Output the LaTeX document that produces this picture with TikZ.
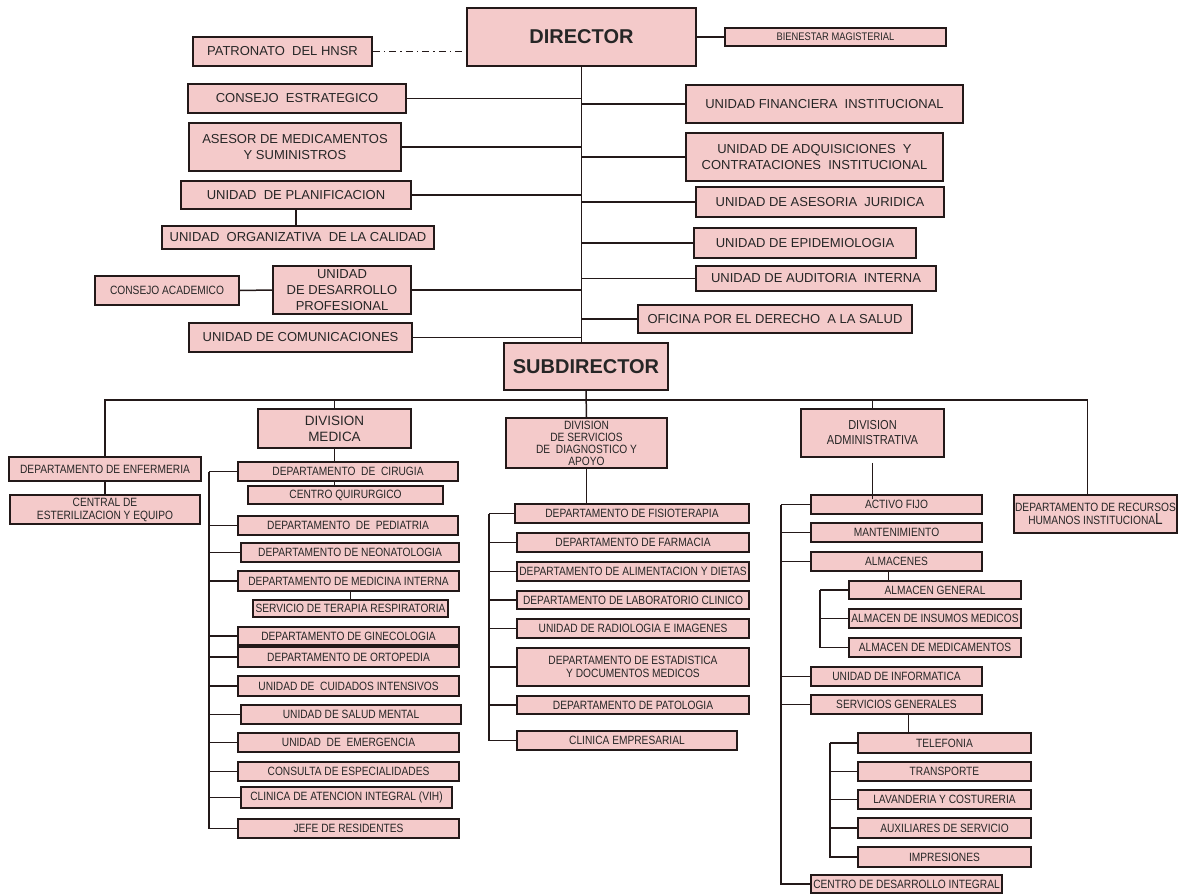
\documentclass[tikz,border=0pt]{standalone}
\usepackage{fontspec}
\setmainfont{Liberation Sans}
\newfontfamily\narrowfont[FakeStretch=0.85]{Liberation Sans}
\newcommand\bigtxt{\fontsize{13}{16}\selectfont}
\newcommand\smtxt{\narrowfont\fontsize{12}{13}\selectfont}
\newcommand\divtxt{\narrowfont\fontsize{13}{15}\selectfont}
\newcommand\headtxt{\bfseries\fontsize{20}{24}\selectfont}
\definecolor{boxpink}{RGB}{244,202,202}
\definecolor{boxline}{RGB}{35,25,25}
\tikzset{orgbox/.style = {draw=boxline, line width=1.8pt, fill=boxpink,
    inner sep=1pt, align=center, font=\bigtxt, text=black!85},
  narrowtxt/.style = {font=\smtxt},
  titletxt/.style = {font=\headtxt},
  link/.style = {line width=1.5pt, boxline}}
% name, left, top, right, bottom, text
\newcommand\orgnode[7][]{%
  \node[orgbox, minimum width={(#5-#3)*1pt}, minimum height={(#6-#4)*1pt}, #1]
    (#2) at ({(#3+#5)/2},{(#4+#6)/2}) {#7};}

\begin{document}
\begin{tikzpicture}[x=1pt, y=-1pt]
  \useasboundingbox (0,0) rectangle (1179,894);
  % direccion
  \orgnode[titletxt]{dir}{467}{8}{696}{66}{DIRECTOR}
  \orgnode{pat}{193}{37}{372}{66}{PATRONATO\ \ DEL HNSR}
  \orgnode[font=\narrowfont\fontsize{11}{13}\selectfont]{bien}{725}{28}{946}{46}{BIENESTAR MAGISTERIAL}
  \orgnode{conest}{188}{84}{406}{113}{CONSEJO\ \ ESTRATEGICO}
  \orgnode{fin}{686}{85}{963}{123}{UNIDAD FINANCIERA\ \ INSTITUCIONAL}
  \orgnode{ases}{189}{123}{401}{171}{ASESOR DE MEDICAMENTOS\\Y SUMINISTROS}
  \orgnode{adq}{686}{133}{943}{181}{UNIDAD DE ADQUISICIONES\ \ Y\\CONTRATACIONES\ \ INSTITUCIONAL}
  \orgnode{plan}{181}{181}{411}{209}{UNIDAD\ \ DE PLANIFICACION}
  \orgnode{jur}{696}{187}{944}{217}{UNIDAD DE ASESORIA\ \ JURIDICA}
  \orgnode{calid}{162}{226}{434}{249}{UNIDAD\ \ ORGANIZATIVA\ \ DE LA CALIDAD}
  \orgnode{epi}{694}{228}{916}{258}{UNIDAD DE EPIDEMIOLOGIA}
  \orgnode[narrowtxt]{acad}{95}{276}{239}{305}{CONSEJO ACADEMICO}
  \orgnode{desa}{273}{266}{411}{314}{UNIDAD\\DE DESARROLLO\\PROFESIONAL}
  \orgnode{aud}{696}{266}{936}{291}{UNIDAD DE AUDITORIA\ \ INTERNA}
  \orgnode{ofi}{638}{305}{912}{333}{OFICINA POR EL DERECHO\ \ A LA SALUD}
  \orgnode{com}{189}{323}{412}{352}{UNIDAD DE COMUNICACIONES}
  \orgnode[titletxt]{sub}{504}{343}{668}{390}{SUBDIRECTOR}

  \draw[link] (dir.south) -- (dir.south |- sub.north);
  \draw[link, dash pattern=on 7pt off 4pt on 1.5pt off 4pt] (pat.east) -- (pat.east -| dir.west);
  \draw[link] (dir.east |- bien.west) -- (bien.west);
  \foreach \n in {conest, ases, plan, desa, com}
    \draw[link] (\n.east) -- (\n.east -| dir.south);
  \foreach \n in {fin, adq, jur, epi, aud, ofi}
    \draw[link] (\n.west) -- (\n.west -| dir.south);
  \draw[link] (plan.south) -- (plan.south |- calid.north);
  \draw[link] (acad.east) -- (desa.west);

  % divisiones
  \orgnode[narrowtxt]{enf}{9}{457}{201}{481}{DEPARTAMENTO DE ENFERMERIA}
  \orgnode[narrowtxt]{este}{10}{495}{200}{524}{CENTRAL DE\\ESTERILIZACION Y EQUIPO}
  \orgnode[font=\fontsize{13.5}{16}\selectfont]{med}{258}{409}{411}{448}{DIVISION\\MEDICA}
  \orgnode[font=\narrowfont\fontsize{12}{12}\selectfont]{diag}{506}{418}{667}{468}{DIVISION\\DE SERVICIOS\\DE\ \ DIAGNOSTICO Y\\APOYO}
  \orgnode[font=\divtxt]{adm}{801}{409}{944}{457}{DIVISION\\ADMINISTRATIVA}
  \orgnode[narrowtxt]{rrhh}{1014}{495}{1177}{533}{DEPARTAMENTO DE RECURSOS\\HUMANOS INSTITUCIONA{\fontsize{16}{16}\selectfont L}}

  \path (sub.south) ++(0,9) coordinate (hub);
  \draw[link] (sub.south) -- (diag.north);
  \draw[link] (enf.north) -- (enf.north |- hub) -- ([xshift=-8pt]rrhh.north |- hub)
    -- ([xshift=-8pt]rrhh.north);
  \draw[link] (med.north) -- (med.north |- hub);
  \draw[link] (adm.north) -- (adm.north |- hub);
  \draw[link] (enf.south) -- (este.north);

  % division medica
  \orgnode[narrowtxt]{cir}{238}{462}{458}{481}{DEPARTAMENTO\ \ DE\ \ CIRUGIA}
  \orgnode[narrowtxt]{quir}{248}{486}{443}{504}{CENTRO QUIRURGICO}
  \orgnode[narrowtxt]{ped}{238}{516}{458}{535}{DEPARTAMENTO\ \ DE\ \ PEDIATRIA}
  \orgnode[narrowtxt]{neo}{241}{543}{459}{562}{DEPARTAMENTO DE NEONATOLOGIA}
  \orgnode[narrowtxt]{mint}{238}{571}{459}{591}{DEPARTAMENTO DE MEDICINA INTERNA}
  \orgnode[narrowtxt]{resp}{253}{600}{448}{617}{SERVICIO DE TERAPIA RESPIRATORIA}
  \orgnode[narrowtxt]{gine}{238}{627}{459}{645}{DEPARTAMENTO DE GINECOLOGIA}
  \orgnode[narrowtxt]{orto}{238}{647}{459}{667}{DEPARTAMENTO DE ORTOPEDIA}
  \orgnode[narrowtxt]{uci}{238}{676}{459}{696}{UNIDAD DE\ \ CUIDADOS INTENSIVOS}
  \orgnode[narrowtxt]{salud}{241}{705}{461}{724}{UNIDAD DE SALUD MENTAL}
  \orgnode[narrowtxt]{emer}{238}{733}{459}{752}{UNIDAD\ \ DE\ \ EMERGENCIA}
  \orgnode[narrowtxt]{consu}{238}{762}{459}{781}{CONSULTA DE ESPECIALIDADES}
  \orgnode[narrowtxt]{vih}{241}{787}{452}{808}{CLINICA DE ATENCION INTEGRAL (VIH)}
  \orgnode[narrowtxt]{jefe}{238}{819}{459}{838}{JEFE DE RESIDENTES}

  \draw[link] (med.south) -- (med.south |- cir.north);
  \draw[link] (med.south |- cir.south) -- (med.south |- quir.north);
  \draw[link] (resp.north) -- (resp.north |- mint.south);
  \draw[link] (cir.west) -- ++(-28,0) coordinate (mbus);
  \draw[link] (mbus) |- (jefe.west);
  \foreach \n in {ped, neo, mint, gine, orto, uci, salud, emer, consu, vih}
    \draw[link] (\n.west) -- (\n.west -| mbus);

  % division de servicios de diagnostico y apoyo
  \orgnode[narrowtxt]{fis}{515}{504}{749}{523}{DEPARTAMENTO DE FISIOTERAPIA}
  \orgnode[narrowtxt]{far}{517}{533}{749}{552}{DEPARTAMENTO DE FARMACIA}
  \orgnode[narrowtxt, inner sep=0pt]{ali}{517}{562}{749}{581}{DEPARTAMENTO DE ALIMENTACION Y DIETAS}
  \orgnode[narrowtxt]{lab}{517}{591}{749}{609}{DEPARTAMENTO DE LABORATORIO CLINICO}
  \orgnode[narrowtxt]{rad}{517}{619}{749}{638}{UNIDAD DE RADIOLOGIA E IMAGENES}
  \orgnode[narrowtxt]{estd}{517}{648}{749}{686}{DEPARTAMENTO DE ESTADISTICA\\Y DOCUMENTOS MEDICOS}
  \orgnode[narrowtxt]{pato}{517}{696}{749}{714}{DEPARTAMENTO DE PATOLOGIA}
  \orgnode[narrowtxt]{cemp}{517}{731}{737}{750}{CLINICA EMPRESARIAL}

  \draw[link] (diag.south) -- (diag.south |- fis.north);
  \draw[link] (fis.west) -- ++(-25,0) coordinate (dbus);
  \draw[link] (dbus) |- (cemp.west);
  \foreach \n in {far, ali, lab, rad, estd, pato}
    \draw[link] (\n.west) -- (\n.west -| dbus);

  % division administrativa
  \orgnode[narrowtxt]{act}{811}{495}{982}{514}{ACTIVO FIJO}
  \orgnode[narrowtxt]{mant}{811}{523}{982}{542}{MANTENIMIENTO}
  \orgnode[narrowtxt]{alm}{811}{552}{982}{571}{ALMACENES}
  \orgnode[narrowtxt]{almg}{849}{581}{1021}{599}{ALMACEN GENERAL}
  \orgnode[narrowtxt]{almi}{849}{609}{1021}{628}{ALMACEN DE INSUMOS MEDICOS}
  \orgnode[narrowtxt]{almm}{849}{638}{1021}{657}{ALMACEN DE MEDICAMENTOS}
  \orgnode[narrowtxt]{inf}{811}{667}{982}{686}{UNIDAD DE INFORMATICA}
  \orgnode[narrowtxt]{sg}{811}{695}{982}{714}{SERVICIOS GENERALES}
  \orgnode[narrowtxt]{tel}{858}{733}{1031}{753}{TELEFONIA}
  \orgnode[narrowtxt]{tra}{858}{762}{1031}{781}{TRANSPORTE}
  \orgnode[narrowtxt]{lav}{858}{790}{1031}{809}{LAVANDERIA Y COSTURERIA}
  \orgnode[narrowtxt]{aux}{858}{818}{1031}{838}{AUXILIARES DE SERVICIO}
  \orgnode[narrowtxt]{imp}{858}{847}{1031}{867}{IMPRESIONES}
  \orgnode[narrowtxt]{cdi}{811}{875}{1002}{893}{CENTRO DE DESARROLLO INTEGRAL}

  \draw[link] ([yshift=-5pt]adm.south) -- ([yshift=-5pt]adm.south |- act.north);
  \draw[link] (act.west) -- ++(-29,0) coordinate (abus);
  \draw[link] (abus) |- (cdi.west);
  \foreach \n in {mant, alm, inf, sg}
    \draw[link] (\n.west) -- (\n.west -| abus);
  \draw[link] ([xshift=-8pt]alm.south) -- ([xshift=-8pt]alm.south |- almg.north);
  \draw[link] (almg.west) -- ++(-28,0) coordinate (gbus);
  \draw[link] (gbus) |- (almm.west);
  \draw[link] (almi.west) -- (almi.west -| gbus);
  \draw[link] ([xshift=12pt]sg.south) -- ([xshift=12pt]sg.south |- tel.north);
  \draw[link] (tel.west) -- ++(-27,0) coordinate (sbus);
  \draw[link] (sbus) |- (imp.west);
  \foreach \n in {tra, lav, aux}
    \draw[link] (\n.west) -- (\n.west -| sbus);
\end{tikzpicture}
\end{document}
